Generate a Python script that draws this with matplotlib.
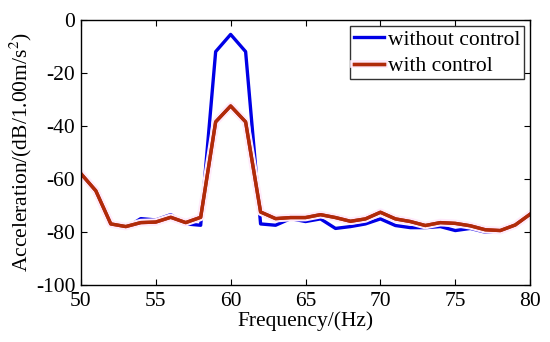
import matplotlib
matplotlib.use("Agg")
import matplotlib.pyplot as plt
import matplotlib.patheffects as pe

# frequency axis (Hz)
freq = list(range(50, 81))

# acceleration (dB)
without_control = [-58.5, -64, -77, -78.5, -75, -75.5, -73.5, -77, -77.5, -12,
                   -5.5, -12, -77, -77.5, -75, -76.1, -75.1, -78.7, -78, -77,
                   -75.1, -77.6, -78.4, -78.4, -78, -79.5, -78.7, -80.1, -80.1, -77.6,
                   -73.3]
with_control = [-58, -64.5, -77, -78, -76.5, -76.3, -74.5, -76.5, -74.5, -38.5,
                -32.5, -38.5, -72.5, -75, -74.6, -74.6, -73.5, -74.6, -76, -75.1,
                -72.6, -75.1, -76.1, -77.6, -76.5, -76.8, -77.7, -79.2, -79.5, -77.4,
                -73.3]

plt.rcParams['font.family'] = ['Liberation Serif', 'DejaVu Serif']
plt.rcParams['mathtext.fontset'] = 'stix'
plt.rcParams['axes.unicode_minus'] = False

fig = plt.figure(figsize=(5.5, 3.42), dpi=100)
ax = fig.add_axes([0.147, 0.167, 0.817, 0.775])

ax.plot(freq, without_control, color='#0000e6', lw=2.4, label='without control')
ax.plot(freq, with_control, color='#b02a0a', lw=2.4, label='with control',
        path_effects=[pe.withStroke(linewidth=5.5, foreground='#feeafa'), pe.Normal()])

ax.set_xlim(50, 80)
ax.set_ylim(-100, 0)
ax.set_xticks([50, 55, 60, 65, 70, 75, 80])
ax.set_yticks([-100, -80, -60, -40, -20, 0])
ax.tick_params(direction='in', top=True, right=True, labelsize=15.5, length=4)
ax.tick_params(axis='x', pad=5)
ax.tick_params(axis='y', pad=4)
for s in ax.spines.values():
    s.set_linewidth(1.0)

ax.set_xlabel('Frequency/(Hz)', fontsize=15.5, labelpad=0)
ax.set_ylabel('Acceleration/(dB/1.00m/s$^2$)', fontsize=15.5, labelpad=1)

leg = ax.legend(loc='upper right', fontsize=15.5, fancybox=False, framealpha=1,
                edgecolor='#333333', handlelength=1.4, handletextpad=0.2,
                borderpad=0.15, labelspacing=0.3, borderaxespad=0.3)
leg.get_frame().set_linewidth(1.0)

fig.savefig('out.png', dpi=100)
